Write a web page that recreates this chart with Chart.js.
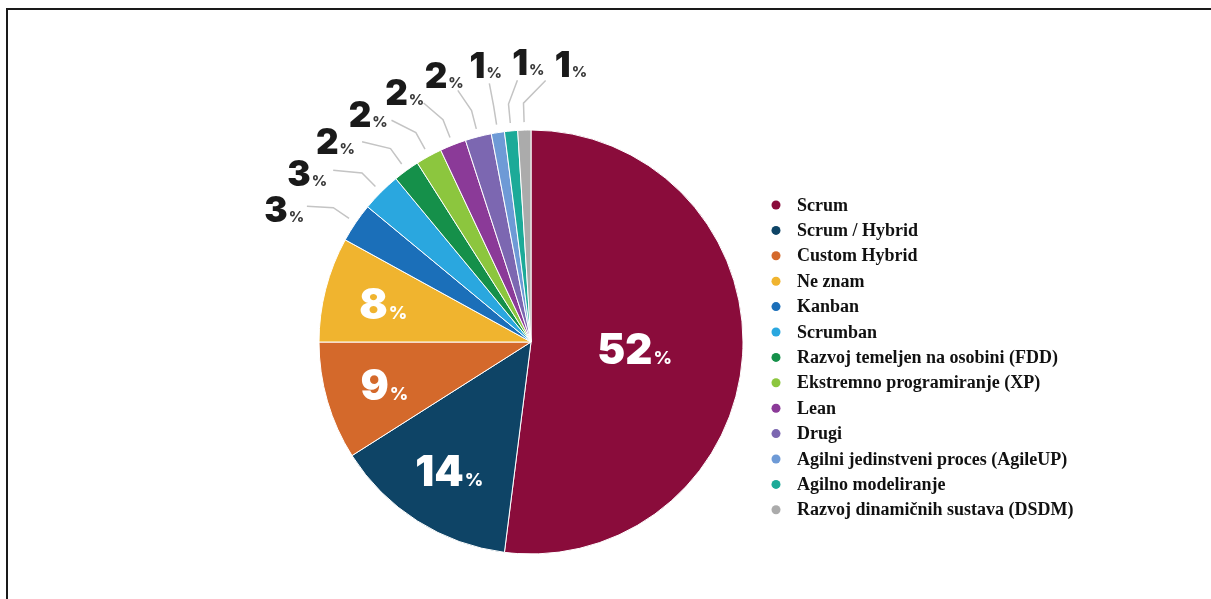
<!DOCTYPE html>
<html>
<head>
<meta charset="utf-8">
<script src="https://cdn.jsdelivr.net/npm/chart.js@4"></script>
<style>
  body { margin: 0; background: #fff; }
  #wrap { position: relative; width: 1211px; height: 599px; overflow: hidden; }
  #frame { position: absolute; left: 6px; top: 8px; right: -4px; bottom: -4px;
           border-top: 2px solid #1a1a1a; border-left: 2px solid #1a1a1a; }
  canvas { position: absolute; left: 0; top: 0; }
</style>
</head>
<body>
<div id="wrap">
  <div id="frame"></div>
  <canvas id="myChart" width="1211" height="599"></canvas>
</div>
<script>
let labels = ['Scrum', 'Scrum / Hybrid', 'Custom Hybrid', 'Ne znam', 'Kanban', 'Scrumban',
  'Razvoj temeljen na osobini (FDD)', 'Ekstremno programiranje (XP)', 'Lean', 'Drugi',
  'Agilni jedinstveni proces (AgileUP)', 'Agilno modeliranje', 'Razvoj dinamičnih sustava (DSDM)'];
let values = [52, 14, 9, 8, 3, 3, 2, 2, 2, 2, 1, 1, 1];
let colorHex = ['#8a0c3b', '#0e4466', '#d4692b', '#f0b42f', '#1b6fb9', '#2aa7df',
  '#15904a', '#8cc63e', '#8b3a98', '#7c67b1', '#6e9ad6', '#1caa98', '#ababab'];

const deg = Math.PI / 180;

// percent labels: big ones inside in white, small ones outside with leader lines
let sliceLabels = {
  id: 'sliceLabels',
  afterDatasetsDraw(chart) {
    const ctx = chart.ctx;
    const arcs = chart.getDatasetMeta(0).data;
    const vals = chart.data.datasets[0].data;
    const small = [];
    ctx.save();
    arcs.forEach((arc, i) => {
      const mid = (arc.startAngle + arc.endAngle) / 2;
      if (vals[i] < 5) { small.push(i); return; }
      const rr = arc.outerRadius * (vals[i] > 50 ? 0.49 : 0.72);
      drawPct(ctx, vals[i], arc.x + Math.cos(mid) * rr, arc.y + Math.sin(mid) * rr, 42, 18, '#fff', '#fff');
    });
    if (small.length) {
      const a0 = arcs[small[0]], a1 = arcs[small[small.length - 1]];
      const m0 = (a0.startAngle + a0.endAngle) / 2 - 6 * deg;
      const m1 = (a1.startAngle + a1.endAngle) / 2 + 10 * deg;
      const step = small.length > 1 ? (m1 - m0) / (small.length - 1) : 0;
      small.forEach((i, k) => {
        const arc = arcs[i];
        const r = arc.outerRadius;
        const mid = (arc.startAngle + arc.endAngle) / 2;
        const la = m0 + k * step;
        const ea = (la + mid) / 2;
        ctx.strokeStyle = '#c4c4c4';
        ctx.lineWidth = 1.5;
        ctx.beginPath();
        ctx.moveTo(arc.x + Math.cos(mid) * (r + 8), arc.y + Math.sin(mid) * (r + 8));
        ctx.lineTo(arc.x + Math.cos(mid) * (r + 27), arc.y + Math.sin(mid) * (r + 27));
        ctx.lineTo(arc.x + Math.cos(ea) * (r + 50), arc.y + Math.sin(ea) * (r + 50));
        ctx.stroke();
        drawPct(ctx, vals[i], arc.x + Math.cos(la) * (r + 68), arc.y + Math.sin(la) * (r + 68), 35, 15, '#1a1a1a', '#3a3a3a');
      });
    }
    ctx.restore();
  }
};

function drawPct(ctx, v, cx, cy, big, sm, c1, c2) {
  const f1 = '900 ' + big + 'px Inter, Lato, sans-serif';
  const f2 = '800 ' + sm + 'px Inter, Lato, sans-serif';
  ctx.font = f1;
  const w1 = ctx.measureText(String(v)).width;
  ctx.font = f2;
  const w2 = ctx.measureText('%').width;
  const x = cx - (w1 + w2 + 1) / 2;
  const base = cy + big * 0.36;
  ctx.textAlign = 'left';
  ctx.textBaseline = 'alphabetic';
  ctx.font = f1;
  ctx.fillStyle = c1;
  ctx.fillText(String(v), x, base);
  ctx.font = f2;
  ctx.fillStyle = c2;
  ctx.fillText('%', x + w1 + 1, base);
}

// legend on the right, dot + bold serif text
let sideLegend = {
  id: 'sideLegend',
  afterDraw(chart) {
    const ctx = chart.ctx;
    const cols = chart.data.datasets[0].backgroundColor;
    ctx.save();
    ctx.font = 'bold 18px "Liberation Serif", "DejaVu Serif", serif';
    ctx.textBaseline = 'middle';
    ctx.textAlign = 'left';
    chart.data.labels.forEach((lab, i) => {
      const y = 205 + i * 25.4;
      ctx.fillStyle = cols[i];
      ctx.beginPath();
      ctx.arc(776, y, 4.5, 0, Math.PI * 2);
      ctx.fill();
      ctx.fillStyle = '#111';
      ctx.fillText(lab, 797, y + 1);
    });
    ctx.restore();
  }
};

let ctx = document.getElementById('myChart').getContext('2d');
let myChart = new Chart(ctx, {
  type: 'pie',
  data: {
    labels: labels,
    datasets: [{
      data: values,
      backgroundColor: colorHex,
      borderColor: '#ffffff',
      borderWidth: 1
    }]
  },
  options: {
    responsive: false,
    animation: false,
    devicePixelRatio: 1,
    layout: { padding: { left: 318.5, top: 129.5, right: 467.5, bottom: 44.5 } },
    plugins: {
      legend: { display: false },
      tooltip: { enabled: false }
    }
  },
  plugins: [sliceLabels, sideLegend]
});
</script>
</body>
</html>
